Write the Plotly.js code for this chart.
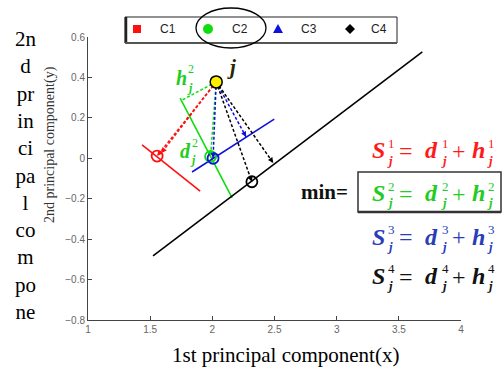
<!DOCTYPE html>
<html><head><meta charset="utf-8">
<script src="https://cdn.plot.ly/plotly-3.0.1.min.js"></script>
<style>html,body{margin:0;padding:0;background:#fff;}#chart{width:503px;height:372px;}</style>
</head><body><div id="chart"></div>
<script>
// ---- data ----
const categories = ['C1', 'C2', 'C3', 'C4'];
const colors = ['#ff1010', '#10dd10', '#1010dd', '#000000'];
const eqColors = ['#ff1a1a', '#22cc22', '#2a3cb8', '#111111'];
const centerX = [1.556, 1.986, 2.006, 2.318];
const centerY = [0.011, 0.009, 0.000, -0.116];
const axisX0 = [1.435, 1.741, 1.837, 1.523];
const axisY0 = [0.066, 0.298, -0.068, -0.483];
const axisX1 = [1.902, 2.159, 2.498, 3.689];
const axisY1 = [-0.162, -0.196, 0.194, 0.526];
const footX = [1.590, 1.757, 2.272, 2.490];
const footY = [0.026, 0.288, 0.105, -0.023];
const jX = [2.031];
const jY = [0.378];
const xTickVals = [1, 1.5, 2, 2.5, 3, 3.5, 4];
const xTickText = ['1', '1.5', '2', '2.5', '3', '3.5', '4'];
const yTickVals = [-0.8, -0.6, -0.4, -0.2, 0, 0.2, 0.4, 0.6];
const yTickText = ['\u22120.8', '\u22120.6', '\u22120.4', '\u22120.2', '0', '0.2', '0.4', '0.6'];
const xTitle = '1st principal component(x)';
const yTitle = '2nd principal component(y)';
const yTitleWrapped = ['2n', 'd', 'pr', 'in', 'ci', 'pa', 'l', 'co', 'm', 'po', 'ne'];

// ---- layout helpers ----
const L = 88, T = 37, W = 373, H = 283;
const px = x => (x - L) / W;
const py = y => (T + H - y) / H;
const serif = 'Liberation Serif, Times New Roman, serif';
const sans = 'Liberation Sans, Arial, sans-serif';
function ann(x, y, text, size, color, extra) {
  return Object.assign({xref: 'paper', yref: 'paper', x: px(x), y: py(y), text: text,
    showarrow: false, xanchor: 'center', yanchor: 'middle',
    font: {family: serif, size: size, color: color}}, extra || {});
}

const traces = [];
// principal axes
for (let i = 0; i < 4; i++) {
  traces.push({type: 'scatter', mode: 'lines', x: [axisX0[i], axisX1[i]], y: [axisY0[i], axisY1[i]],
    line: {color: colors[i], width: 1.6}, hoverinfo: 'skip', showlegend: false});
}
// dashed distances from j
for (let i = 0; i < 4; i++) {
  traces.push({type: 'scatter', mode: 'lines', x: [jX[0], centerX[i]], y: [jY[0], centerY[i]],
    line: {color: colors[i], width: 1.5, dash: '3px,2px'}, showlegend: false});
  traces.push({type: 'scatter', mode: 'lines', x: [jX[0], footX[i]], y: [jY[0], footY[i]],
    line: {color: colors[i], width: 1.5, dash: '3px,2px'}, showlegend: false});
}
// class centres
traces.push({type: 'scatter', mode: 'markers', x: centerX, y: centerY, text: categories,
  marker: {symbol: 'circle-open', size: 11, color: colors, line: {width: 1.8}}, showlegend: false});
// point j
traces.push({type: 'scatter', mode: 'markers', x: jX, y: jY,
  marker: {symbol: 'circle', size: 12, color: '#ffee00', line: {color: '#000', width: 1.5}}, showlegend: false});

const annotations = [];
// arrowheads
for (let i = 0; i < 4; i++) {
  [[footX[i], footY[i]], [centerX[i], centerY[i]]].forEach(function (p) {
    const bx = p[0] + (jX[0] - p[0]) * 0.06, by = p[1] + (jY[0] - p[1]) * 0.06;
    annotations.push({x: p[0], y: p[1], ax: bx, ay: by, xref: 'x', yref: 'y', axref: 'x', ayref: 'y',
      text: '', showarrow: true, arrowhead: 2, arrowsize: 0.9, arrowwidth: 1.2, arrowcolor: colors[i], standoff: 0});
  });
}
// labels near j
annotations.push(ann(231, 67, '<b><i>j</i></b>', 21, '#2a2600'));
annotations.push(ann(181, 78, '<b><i>h</i></b>', 20, '#22cc22'));
annotations.push(ann(191, 69, '2', 12, '#22cc22'));
annotations.push(ann(190, 88, '<b><i>j</i></b>', 12, '#22cc22'));
annotations.push(ann(185, 151, '<b><i>d</i></b>', 20, '#22cc22'));
annotations.push(ann(195, 143, '2', 12, '#22cc22'));
annotations.push(ann(193, 160, '<b><i>j</i></b>', 12, '#22cc22'));

// equations
const eqY = [150, 193, 236.5, 275.5];
for (let k = 0; k < 4; k++) {
  const c = eqColors[k], yc = eqY[k], s = String(k + 1);
  [['S', 378, 390], ['d', 431, 444], ['h', 478, 490]].forEach(function (p) {
    annotations.push(ann(p[1], yc, '<b><i>' + p[0] + '</i></b>', 24, c));
    annotations.push(ann(p[2] + 1, yc - 7, s, 13, c));
    annotations.push(ann(p[2], yc + 10, '<b><i>j</i></b>', 13, c));
  });
  annotations.push(ann(406, yc + 1, '=', 24, c));
  annotations.push(ann(459, yc + 1, '+', 24, c));
}
annotations.push(ann(324, 192, '<b>min=</b>', 21, '#111'));

// legend
const legX = [137, 208, 278, 350];
const legTX = [168, 240, 309, 379];
for (let i = 0; i < 4; i++) annotations.push(ann(legTX[i], 29, categories[i], 12, '#222', {font: {family: sans, size: 12, color: '#222'}}));

// axis titles
annotations.push(ann(285, 355, xTitle, 21, '#000'));
annotations.push(ann(50, 145, yTitle, 14, '#333', {textangle: -90}));
annotations.push(ann(26, 175, yTitleWrapped.join('<br>'), 21, '#000'));

// shapes
const shapes = [];
function rect(x0, y0, x1, y1, o) {
  return Object.assign({type: 'rect', xref: 'paper', yref: 'paper', x0: px(x0), x1: px(x1), y0: py(y1), y1: py(y0)}, o);
}
function seg(x0, y0, x1, y1, o) {
  return Object.assign({type: 'line', xref: 'paper', yref: 'paper', x0: px(x0), x1: px(x1), y0: py(y0), y1: py(y1)}, o);
}
shapes.push(rect(125, 17, 397, 43, {line: {color: '#222', width: 1}, fillcolor: '#fff'}));
shapes.push(seg(126, 17, 126, 43, {line: {color: '#222', width: 2.5}}));
shapes.push(seg(125, 43, 397, 43, {line: {color: '#555', width: 2}}));
shapes.push({type: 'circle', xref: 'paper', yref: 'paper', x0: px(196), x1: px(266), y0: py(48), y1: py(8), line: {color: '#000', width: 1.3}});
// legend markers
shapes.push(rect(133, 25, 141, 33, {line: {width: 0}, fillcolor: colors[0]}));
shapes.push({type: 'circle', xref: 'paper', yref: 'paper', x0: px(203), x1: px(213), y0: py(34), y1: py(24), line: {width: 0}, fillcolor: colors[1]});
shapes.push({type: 'path', xref: 'paper', yref: 'paper', path: 'M ' + px(278) + ' ' + py(24) + ' L ' + px(283) + ' ' + py(33) + ' L ' + px(273) + ' ' + py(33) + ' Z', line: {width: 0}, fillcolor: colors[2]});
shapes.push({type: 'path', xref: 'paper', yref: 'paper', path: 'M ' + px(350) + ' ' + py(24) + ' L ' + px(355) + ' ' + py(29) + ' L ' + px(350) + ' ' + py(34) + ' L ' + px(345) + ' ' + py(29) + ' Z', line: {width: 0}, fillcolor: colors[3]});
// equation box
shapes.push(rect(358, 172, 501, 212, {line: {color: '#333', width: 1.5}}));
shapes.push(seg(358, 212, 501, 212, {line: {color: '#333', width: 2.5}}));

const axisCommon = {showgrid: false, zeroline: false, showline: true, linecolor: '#444', linewidth: 1,
  ticks: 'inside', ticklen: 4, tickcolor: '#444', tickfont: {family: sans, size: 10, color: '#666'}, mirror: false, fixedrange: true};
const layout = {
  width: 503, height: 372, margin: {l: L, r: 503 - L - W, t: T, b: 372 - T - H},
  paper_bgcolor: '#fff', plot_bgcolor: '#fff', showlegend: false,
  xaxis: Object.assign({}, axisCommon, {range: [1, 4], tickvals: xTickVals, ticktext: xTickText}),
  yaxis: Object.assign({}, axisCommon, {range: [-0.8, 0.6], tickvals: yTickVals, ticktext: yTickText}),
  annotations: annotations, shapes: shapes
};
Plotly.newPlot('chart', traces, layout, {displayModeBar: false, staticPlot: true});
</script></body></html>
